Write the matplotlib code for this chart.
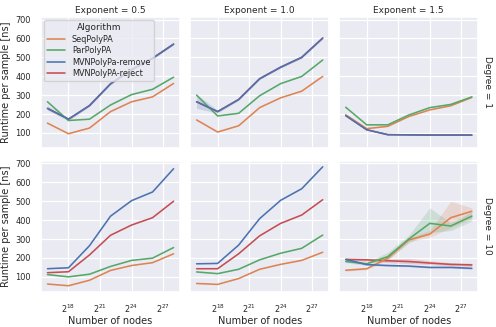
import matplotlib
matplotlib.use('Agg')
import matplotlib.pyplot as plt
import seaborn as sns
import numpy as np

# data
nodes = [2**16, 2**18, 2**20, 2**22, 2**24, 2**26, 2**28]
xticks = [2**18, 2**21, 2**24, 2**27]
xticklabels = ['$2^{18}$', '$2^{21}$', '$2^{24}$', '$2^{27}$']
exponents = ['0.5', '1.0', '1.5']
degrees = ['1', '10']
algorithms = ['SeqPolyPA', 'ParPolyPA', 'MVNPolyPa-remove', 'MVNPolyPA-reject']
colors = ['#dd8452', '#55a868', '#4c72b0', '#c44e52']

# degree 1
d1_e05_seq = [152, 96, 126, 213, 265, 291, 362]
d1_e05_par = [265, 166, 173, 248, 303, 331, 395]
d1_e05_rem = [230, 173, 245, 360, 435, 495, 570]
d1_e05_rej = [230, 173, 245, 360, 435, 495, 570]
d1_e10_seq = [169, 105, 138, 234, 286, 321, 399]
d1_e10_par = [300, 190, 204, 297, 361, 399, 486]
d1_e10_rem = [265, 213, 277, 387, 448, 500, 602]
d1_e10_rej = [265, 213, 277, 387, 448, 500, 602]
d1_e15_seq = [196, 123, 135, 187, 222, 244, 288]
d1_e15_par = [236, 143, 143, 195, 234, 251, 291]
d1_e15_rem = [192, 117, 91, 90, 89, 89, 89]
d1_e15_rej = [192, 117, 91, 90, 89, 89, 89]

# degree 10
d10_e05_seq = [62, 53, 82, 134, 160, 175, 222]
d10_e05_par = [112, 100, 114, 155, 187, 199, 255]
d10_e05_rem = [143, 148, 265, 421, 503, 549, 672]
d10_e05_rej = [122, 127, 216, 320, 374, 413, 500]
d10_e10_seq = [65, 60, 91, 140, 166, 187, 230]
d10_e10_par = [126, 117, 140, 190, 225, 251, 321]
d10_e10_rem = [169, 171, 268, 408, 505, 566, 682]
d10_e10_rej = [143, 143, 222, 317, 383, 427, 508]
d10_e15_seq = [135, 143, 199, 295, 326, 413, 447]
d10_e15_par = [181, 169, 207, 300, 383, 369, 421]
d10_e15_rem = [192, 165, 160, 157, 150, 150, 145]
d10_e15_rej = [192, 190, 185, 181, 173, 166, 163]

# visible confidence bands (low, high)
d1_e05_rem_lo = [220, 165, 240, 355, 430, 490, 565]
d1_e05_rem_hi = [245, 180, 250, 365, 440, 500, 575]
d1_e10_rem_lo = [230, 205, 272, 382, 443, 495, 597]
d1_e10_rem_hi = [305, 220, 282, 392, 453, 505, 607]
d10_e15_seq_lo = [130, 138, 190, 285, 310, 360, 410]
d10_e15_seq_hi = [140, 148, 205, 305, 345, 500, 465]
d10_e15_par_lo = [175, 160, 190, 280, 335, 345, 395]
d10_e15_par_hi = [188, 178, 230, 320, 465, 385, 445]
d10_e15_rej_lo = [185, 182, 175, 170, 165, 158, 155]
d10_e15_rej_hi = [200, 198, 195, 198, 185, 175, 172]
d10_e15_rem_lo = [185, 161, 156, 153, 146, 146, 141]
d10_e15_rem_hi = [203, 169, 164, 161, 154, 154, 149]

series = {
    ('1', '0.5'): [d1_e05_seq, d1_e05_par, d1_e05_rem, d1_e05_rej],
    ('1', '1.0'): [d1_e10_seq, d1_e10_par, d1_e10_rem, d1_e10_rej],
    ('1', '1.5'): [d1_e15_seq, d1_e15_par, d1_e15_rem, d1_e15_rej],
    ('10', '0.5'): [d10_e05_seq, d10_e05_par, d10_e05_rem, d10_e05_rej],
    ('10', '1.0'): [d10_e10_seq, d10_e10_par, d10_e10_rem, d10_e10_rej],
    ('10', '1.5'): [d10_e15_seq, d10_e15_par, d10_e15_rem, d10_e15_rej],
}
bands = {
    ('1', '0.5', 2): (d1_e05_rem_lo, d1_e05_rem_hi),
    ('1', '1.0', 2): (d1_e10_rem_lo, d1_e10_rem_hi),
    ('10', '1.5', 0): (d10_e15_seq_lo, d10_e15_seq_hi),
    ('10', '1.5', 1): (d10_e15_par_lo, d10_e15_par_hi),
    ('10', '1.5', 2): (d10_e15_rem_lo, d10_e15_rem_hi),
    ('10', '1.5', 3): (d10_e15_rej_lo, d10_e15_rej_hi),
}

sns.set_theme(style='darkgrid')
plt.rcParams['font.family'] = ['DejaVu Sans']
fs = 6.5   # titles
ls = 7.0   # axis labels
ts = 5.9   # tick labels

fig, axes = plt.subplots(2, 3, figsize=(4.96, 3.27), dpi=100, sharex=True, sharey=True)
fig.subplots_adjust(left=0.083, right=0.964, top=0.948, bottom=0.108, wspace=0.075, hspace=0.1)

# reject drawn first so remove covers it where they coincide
order = [3, 0, 1, 2]
for r, deg in enumerate(degrees):
    for c, ex in enumerate(exponents):
        ax = axes[r, c]
        vals = series[(deg, ex)]
        for i in order:
            ax.plot(nodes, vals[i], color=colors[i], lw=1.15, label=algorithms[i])
            if (deg, ex, i) in bands:
                lo, hi = bands[(deg, ex, i)]
                ax.fill_between(nodes, lo, hi, color=colors[i], alpha=0.2, lw=0)
        ax.set_xscale('log', base=2)
        ax.set_xticks(xticks)
        ax.set_xticklabels(xticklabels)
        ax.minorticks_off()
        ax.tick_params(labelsize=ts, pad=1.5)
        ax.grid(lw=0.9)
        if r == 0:
            ax.set_title('Exponent = ' + ex, fontsize=fs, pad=3)
        if c == 2:
            ax.text(1.035, 0.5, 'Degree = ' + deg, transform=ax.transAxes,
                    rotation=270, va='center', ha='left', fontsize=fs)
        if c == 0:
            ax.set_ylabel('Runtime per sample [ns]', fontsize=ls, labelpad=3)
        if r == 1:
            ax.set_xlabel('Number of nodes', fontsize=ls, labelpad=1)

axes[0, 0].set_yticks([100, 200, 300, 400, 500, 600, 700])

h, l = axes[0, 0].get_legend_handles_labels()
hl = dict(zip(l, h))
axes[0, 0].legend([hl[a] for a in algorithms], algorithms, title='Algorithm',
                  loc='upper left', fontsize=ts, title_fontsize=fs,
                  borderaxespad=0.35, handlelength=2.2, labelspacing=0.3)

fig.savefig('out.png', dpi=100)
